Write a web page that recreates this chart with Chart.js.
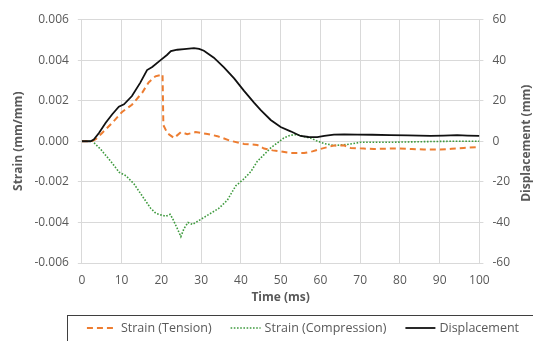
<!DOCTYPE html>
<html>
<head>
<meta charset="utf-8">
<script src="https://cdn.jsdelivr.net/npm/chart.js@4.4.1/dist/chart.umd.min.js"></script>
<style>
  html, body { margin: 0; padding: 0; background: #fff; }
  canvas { display: block; }
</style>
</head>
<body>
<canvas id="strainChart" width="533" height="341"></canvas>
<script>
// Strain gauge readings (mm/mm) and displacement (mm) against time (ms)
var tensionTime = [0, 2.5, 3.5, 5.1, 7.6, 10.1, 12.6, 15.2, 16.8, 18.5, 19.8, 20.3, 20.5, 21.5, 23.2, 24.9, 26.5, 28.6, 31.6, 34.1, 37.4, 40.8, 44.1, 45.8, 48, 50, 52.5, 55.9, 58, 60, 63.4, 65.9, 67.6, 70.9, 73.5, 79.3, 83, 86, 90.2, 93, 96, 100];
var tensionStrain = [0, 0, 0.0001, 0.00041, 0.0009, 0.00144, 0.0018, 0.0024, 0.0029, 0.0032, 0.00326, 0.0033, 0.0008, 0.0004, 0.00016, 0.00045, 0.00035, 0.00045, 0.00036, 0.00025, 0.00002, -0.00013, -0.00018, -0.00036, -0.00045, -0.0005, -0.00058, -0.00058, -0.0005, -0.00038, -0.00021, -0.0002, -0.00033, -0.00036, -0.00038, -0.00035, -0.00038, -0.00041, -0.00041, -0.00037, -0.00033, -0.00028];

var compTime = [0, 2.7, 4.8, 7.3, 9.4, 11.1, 13.1, 15.2, 17.3, 18.6, 19.4, 21.1, 22.2, 22.8, 24, 24.9, 25.7, 26.7, 27.8, 29.5, 32, 34.5, 36.6, 38.7, 40.5, 42.5, 44.1, 47.5, 50.8, 52.5, 54.2, 56, 57.5, 59, 60.9, 63.4, 66.7, 70.1, 77.6, 86, 93, 100];
var compStrain = [0, 0, -0.00041, -0.001, -0.00153, -0.0017, -0.0021, -0.0027, -0.0033, -0.00355, -0.0036, -0.0037, -0.0036, -0.0038, -0.0043, -0.0047, -0.0043, -0.004, -0.0041, -0.0039, -0.0036, -0.0033, -0.0029, -0.0022, -0.0019, -0.0015, -0.001, -0.00033, 0.00016, 0.0003, 0.00033, 0.00022, 0.00016, 0.00003, -0.00011, -0.00021, -0.00016, -0.00005, -0.00005, -0.00002, 0, 0];

var dispTime = [0, 2.2, 3, 4.3, 6, 7.6, 9.3, 10.6, 12.6, 14.7, 16.4, 17.7, 19.8, 21.4, 22.4, 24, 25.7, 28.2, 29.5, 30.7, 33.2, 35.8, 38.3, 40.8, 43.3, 45, 47.5, 50, 52.5, 55, 57, 59.2, 61, 63.4, 66, 69.3, 73, 77.6, 82, 87.7, 91, 94.4, 97, 100];
var dispMm = [0, 0, 0.8, 4.1, 9.1, 13.2, 17, 18.2, 22.3, 28.9, 35.1, 36.6, 40, 42.5, 44.4, 45.1, 45.4, 45.9, 45.5, 44.6, 41.2, 36.3, 31, 24.8, 19, 15.3, 10.5, 7, 4.9, 2.6, 2.1, 2, 2.6, 3.3, 3.4, 3.3, 3.2, 3, 2.9, 2.6, 2.8, 3, 2.8, 2.6];

var timeTicks = [0, 100, 10];
var strainTicks = [-0.006, 0.006, 0.002];
var dispTicks = [-60, 60, 20];

function toPoints(xs, ys) {
    return xs.map(function (x, i) { return { x: x, y: ys[i] }; });
}

var gridColor = '#d9d9d9';
var textColor = '#595959';
var fontFamily = '"Open Sans", "Liberation Sans", sans-serif';

// axis titles for x and right y, and the framed legend strip at the bottom
var extras = {
    id: 'extras',
    afterDraw: function (chart) {
        var ctx = chart.ctx;
        var area = chart.chartArea;
        ctx.save();
        ctx.fillStyle = textColor;
        ctx.textBaseline = 'middle';

        ctx.font = 'bold 12px ' + fontFamily;
        ctx.textAlign = 'center';
        ctx.fillText('Time (ms)', (area.left + area.right) / 2, 298);

        ctx.strokeStyle = '#3f3f3f';
        ctx.lineWidth = 1;
        ctx.strokeRect(67.5, 315.5, 500, 40);

        ctx.font = '12.5px ' + fontFamily;
        ctx.textAlign = 'left';
        var lineLen = 30, gap = 4, spacing = 19, y = 328;
        var sets = chart.data.datasets;
        var total = 0;
        sets.forEach(function (ds, i) {
            total += lineLen + gap + ctx.measureText(ds.label).width + (i ? spacing : 0);
        });
        var x = 303 - total / 2;
        sets.forEach(function (ds) {
            ctx.beginPath();
            ctx.strokeStyle = ds.borderColor;
            ctx.lineWidth = ds.borderWidth;
            ctx.setLineDash(ds.borderDash || []);
            ctx.moveTo(x, y);
            ctx.lineTo(x + lineLen, y);
            ctx.stroke();
            ctx.setLineDash([]);
            ctx.fillText(ds.label, x + lineLen + gap, y);
            x += lineLen + gap + ctx.measureText(ds.label).width + spacing;
        });

        ctx.translate(527, (area.top + area.bottom) / 2 + 2);
        ctx.rotate(-Math.PI / 2);
        ctx.font = 'bold 12px ' + fontFamily;
        ctx.textAlign = 'center';
        ctx.fillText('Displacement (mm)', 0, 0);
        ctx.restore();
    }
};

var ctx = document.getElementById('strainChart').getContext('2d');
var strainChart = new Chart(ctx, {
    type: 'line',
    data: {
        datasets: [{
            label: 'Strain (Tension)',
            data: toPoints(tensionTime, tensionStrain),
            borderColor: '#ed7d31',
            borderWidth: 2,
            borderDash: [6, 4],
            yAxisID: 'y',
            order: 1
        }, {
            label: 'Strain (Compression)',
            data: toPoints(compTime, compStrain),
            borderColor: '#3e9a3e',
            borderWidth: 1.6,
            borderDash: [1.6, 1.6],
            yAxisID: 'y',
            order: 2
        }, {
            label: 'Displacement',
            data: toPoints(dispTime, dispMm),
            borderColor: '#111111',
            borderWidth: 1.8,
            yAxisID: 'y2',
            order: 0
        }]
    },
    options: {
        responsive: false,
        animation: false,
        devicePixelRatio: 1,
        elements: {
            point: { radius: 0 },
            line: { tension: 0, fill: false }
        },
        layout: {
            autoPadding: false,
            padding: { left: 7, right: 14, top: 19.5, bottom: 43.6 }
        },
        plugins: {
            legend: { display: false },
            tooltip: { enabled: false }
        },
        scales: {
            x: {
                type: 'linear',
                position: 'bottom',
                min: timeTicks[0],
                max: timeTicks[1],
                grid: { color: gridColor, drawTicks: false },
                border: { color: gridColor },
                ticks: {
                    stepSize: timeTicks[2],
                    padding: 10,
                    color: textColor,
                    font: { family: fontFamily, size: 12 }
                }
            },
            y: {
                position: 'left',
                min: strainTicks[0],
                max: strainTicks[1],
                grid: { color: gridColor, tickLength: 4 },
                border: { color: gridColor },
                ticks: {
                    stepSize: strainTicks[2],
                    padding: 9,
                    color: textColor,
                    font: { family: fontFamily, size: 12 },
                    callback: function (v) {
                        return Math.abs(v) < 1e-9 ? '0.000' : v.toFixed(3);
                    }
                },
                title: {
                    display: true,
                    text: 'Strain (mm/mm)',
                    color: textColor,
                    padding: { top: 4, bottom: 0 },
                    font: { family: fontFamily, size: 12, weight: 'bold' }
                }
            },
            y2: {
                position: 'right',
                min: dispTicks[0],
                max: dispTicks[1],
                grid: { drawOnChartArea: false, color: gridColor, tickLength: 4 },
                border: { color: gridColor },
                ticks: {
                    stepSize: dispTicks[2],
                    padding: 9,
                    color: textColor,
                    font: { family: fontFamily, size: 12 }
                }
            }
        }
    },
    plugins: [extras]
});
</script>
</body>
</html>
